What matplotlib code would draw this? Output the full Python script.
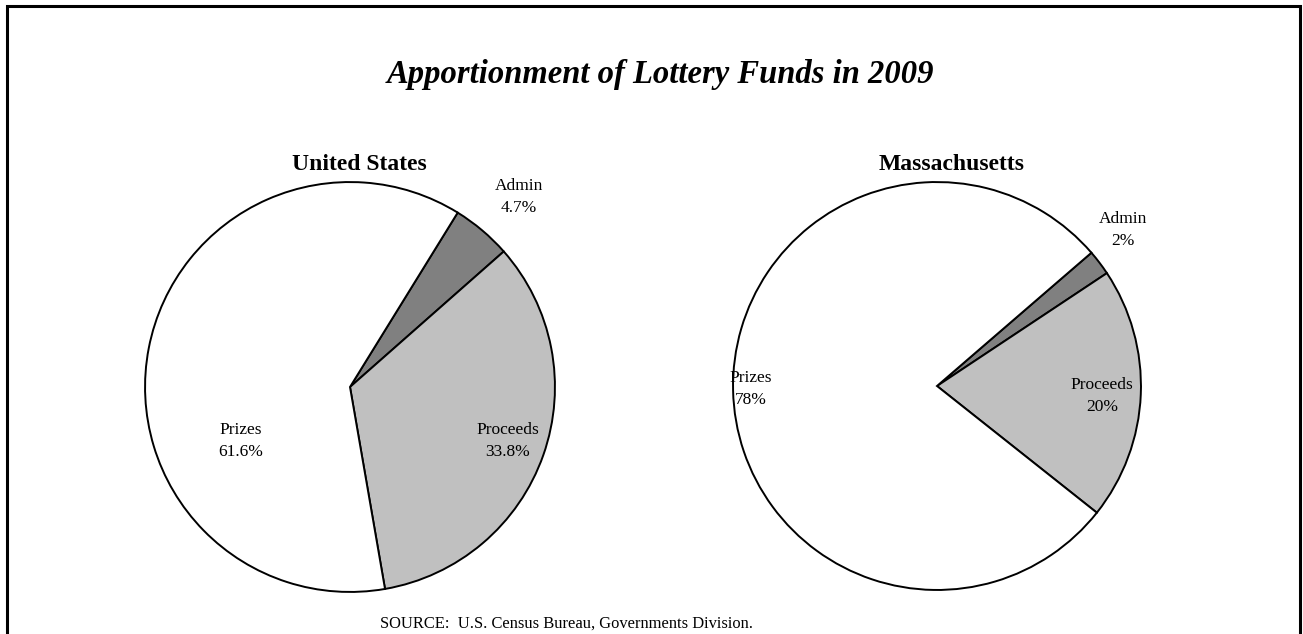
import matplotlib
matplotlib.use("Agg")
import matplotlib.pyplot as plt
from matplotlib.patches import Rectangle

plt.rcParams["font.family"] = ["Liberation Serif", "DejaVu Serif"]

categories = ["Admin", "Proceeds", "Prizes"]
us_values = [4.7, 33.8, 61.6]
ma_values = [2, 20, 78]
us_labels = ["4.7%", "33.8%", "61.6%"]
ma_labels = ["2%", "20%", "78%"]
slice_colors = ["#808080", "#c0c0c0", "#ffffff"]

W, H = 1303, 634
fig = plt.figure(figsize=(W / 100, H / 100), dpi=100)

# outer frame (bottom edge falls off the canvas)
fig.patches.append(Rectangle((7 / W, -0.05), 1293 / W, (H - 6) / H + 0.05,
                             transform=fig.transFigure, fill=False,
                             edgecolor="black", linewidth=2.2))

fig.text(660 / W, 1 - 74 / H, "Apportionment of Lottery Funds in 2009",
         ha="center", va="center", fontsize=23.5, fontweight="bold",
         fontstyle="italic")


def draw_pie(cx, cy, r, values, startangle, name, name_xy, label_pos, pct):
    ax = fig.add_axes([(cx - r) / W, (H - cy - r) / H, 2 * r / W, 2 * r / H])
    ax.pie(values, colors=slice_colors, startangle=startangle,
           counterclock=False, radius=1,
           wedgeprops=dict(edgecolor="black", linewidth=1.4))
    ax.set_xlim(-1.01, 1.01)
    ax.set_ylim(-1.01, 1.01)
    ax.set_aspect("equal")
    ax.axis("off")
    fig.text(name_xy[0] / W, 1 - name_xy[1] / H, name, ha="center",
             va="center", fontsize=17, fontweight="bold")
    for cat, p, (lx, ly) in zip(categories, pct, label_pos):
        fig.text(lx / W, 1 - ly / H, f"{cat}\n{p}", ha="center",
                 va="center", fontsize=12.5, linespacing=1.45)


draw_pie(350, 387, 207, us_values, 58.3, "United States", (359, 165),
         [(519, 197), (508, 441), (241, 441)], us_labels)
draw_pie(937, 386, 206, ma_values, 40.8, "Massachusetts", (952, 165),
         [(1123, 230), (1102, 396), (751, 389)], ma_labels)

fig.text(566 / W, 1 - 624 / H,
         "SOURCE:  U.S. Census Bureau, Governments Division.",
         ha="center", va="center", fontsize=11.9)

fig.savefig("out.png", dpi=100)
